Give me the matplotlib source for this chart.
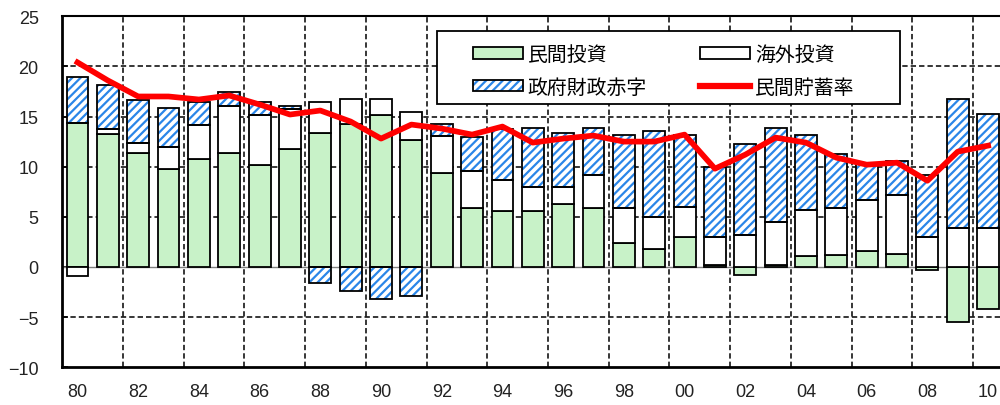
import numpy as np
import matplotlib.pyplot as plt
from matplotlib.patches import Patch, Rectangle
from matplotlib.lines import Line2D

# 年次 (1980-2010)
years = np.arange(1980, 2011)

# 民間投資 (%)
private_inv = [14.4, 13.3, 11.4, 9.8, 10.8, 11.4, 10.2, 11.8, 13.4, 14.3,
               15.2, 12.7, 9.4, 5.9, 5.6, 5.6, 6.3, 5.9, 2.4, 1.8,
               3.0, 0.2, -0.8, 0.2, 1.1, 1.2, 1.6, 1.3, -0.3, -5.5,
               -4.2]
# 海外投資 (%)
overseas_inv = [-0.9, 0.5, 1.0, 2.2, 3.4, 4.7, 5.0, 4.0, 3.0, 2.4,
                1.5, 2.8, 3.7, 3.7, 3.1, 2.4, 1.7, 3.3, 3.5, 3.2,
                3.0, 2.8, 3.2, 4.3, 4.6, 4.7, 5.1, 5.9, 3.0, 3.9,
                3.9]
# 政府財政赤字 (%)
gov_deficit = [4.5, 4.3, 4.2, 3.9, 2.2, 1.3, 1.2, 0.3, -1.6, -2.4,
               -3.2, -2.9, 1.2, 3.4, 5.1, 5.9, 5.4, 4.7, 7.3, 8.6,
               7.2, 7.0, 9.1, 9.4, 7.5, 5.4, 3.6, 3.4, 6.2, 12.8,
               11.4]
# 民間貯蓄率 (%)
private_saving = [20.4, 18.6, 17.0, 17.0, 16.7, 17.1, 16.2, 15.2, 15.6, 14.5,
                  12.8, 14.2, 13.8, 13.2, 14.0, 12.4, 12.8, 13.1, 12.5, 12.5,
                  13.2, 9.8, 11.2, 12.9, 12.4, 10.9, 10.2, 10.4, 8.6, 11.5,
                  12.1]

tick_years = list(range(1980, 2011, 2))
tick_labels = ['80', '82', '84', '86', '88', '90', '92', '94', '96', '98',
               '00', '02', '04', '06', '08', '10']

plt.rcParams['font.family'] = ['Liberation Sans', 'Noto Sans CJK JP']
plt.rcParams['hatch.linewidth'] = 1.6

green = '#c8f2c8'
blue = '#2a86e8'
bw = 0.72
dash = (0, (3.5, 2))

fig = plt.figure(figsize=(10, 4.06), dpi=100)
ax = fig.add_axes([0.0623, 0.093, 0.941, 0.8645])

pos_base = np.zeros(len(years))
neg_base = np.zeros(len(years))


def stack(vals, hatch=None, face='white'):
    # positive values stack upward, negative values stack downward
    vals = np.asarray(vals, dtype=float)
    base = np.where(vals >= 0, pos_base, neg_base)
    if hatch:
        ax.bar(years, vals, bw, bottom=base, facecolor='white',
               edgecolor=blue, hatch=hatch, linewidth=0, zorder=2)
        ax.bar(years, vals, bw, bottom=base, facecolor='none',
               edgecolor='black', linewidth=1.3, zorder=3)
    else:
        ax.bar(years, vals, bw, bottom=base, facecolor=face,
               edgecolor='black', linewidth=1.3, zorder=3)
    pos_base[:] += np.clip(vals, 0, None)
    neg_base[:] += np.clip(vals, None, 0)


stack(private_inv, face=green)
stack(overseas_inv, face='white')
stack(gov_deficit, hatch='////')

ax.plot(years, private_saving, color='#ff0000', linewidth=4.1, zorder=5,
        solid_joinstyle='round')

ax.axhline(0, color='#808080', linewidth=1.0, zorder=1)

ax.set_xlim(1979.5, 2010.5)
ax.set_ylim(-10, 25)
ax.set_yticks(np.arange(-10, 26, 5))
ax.set_xticks(tick_years)
ax.set_xticklabels(tick_labels)
ax.set_xticks(np.arange(1981.5, 2010, 2), minor=True)

# dashed grid behind the bars
for yv in [-5, 5, 10, 15, 20]:
    ax.axhline(yv, color='black', linestyle=dash, linewidth=1.1, zorder=0)
ax.grid(which='minor', axis='x', color='black', linestyle=dash,
        linewidth=1.1, zorder=0)
ax.set_axisbelow(True)

ax.tick_params(axis='y', direction='in', length=4, width=1.2, pad=17,
               labelsize=13, labelcolor='#222222')
ax.tick_params(axis='x', which='major', length=0, pad=11,
               labelsize=13, labelcolor='#222222')
ax.tick_params(axis='x', which='minor', length=0)

for side in ['left', 'bottom']:
    ax.spines[side].set_linewidth(2.0)
ax.spines['top'].set_linewidth(1.5)
ax.spines['right'].set_linewidth(1.5)

# legend box
box = Rectangle((0.437, 1 - 105 / 406), 0.463, 73 / 406,
                transform=fig.transFigure, facecolor='white',
                edgecolor='black', linewidth=1.3, zorder=9, clip_on=False)
ax.add_patch(box)

h_green = Patch(facecolor=green, edgecolor='black', linewidth=1.3)
h_white = Patch(facecolor='white', edgecolor='black', linewidth=1.3)
h_hatch = (Patch(facecolor='white', edgecolor=blue, hatch='////', linewidth=0),
           Patch(facecolor='none', edgecolor='black', linewidth=1.3))
h_line = Line2D([], [], color='#ff0000', linewidth=4.5)

leg = ax.legend([h_green, h_hatch, h_white, h_line],
                ['民間投資', '政府財政赤字', '海外投資', '民間貯蓄率'],
                ncol=2, loc='center left',
                bbox_to_anchor=(0.473, 1 - 71.7 / 406),
                bbox_transform=fig.transFigure, borderaxespad=0,
                fontsize=14.3, frameon=False, handlelength=2.5,
                handleheight=0.5, handletextpad=0.25, columnspacing=2.7,
                labelspacing=0.68, borderpad=0)
leg.set_zorder(10)

fig.savefig('out.png', dpi=100)
